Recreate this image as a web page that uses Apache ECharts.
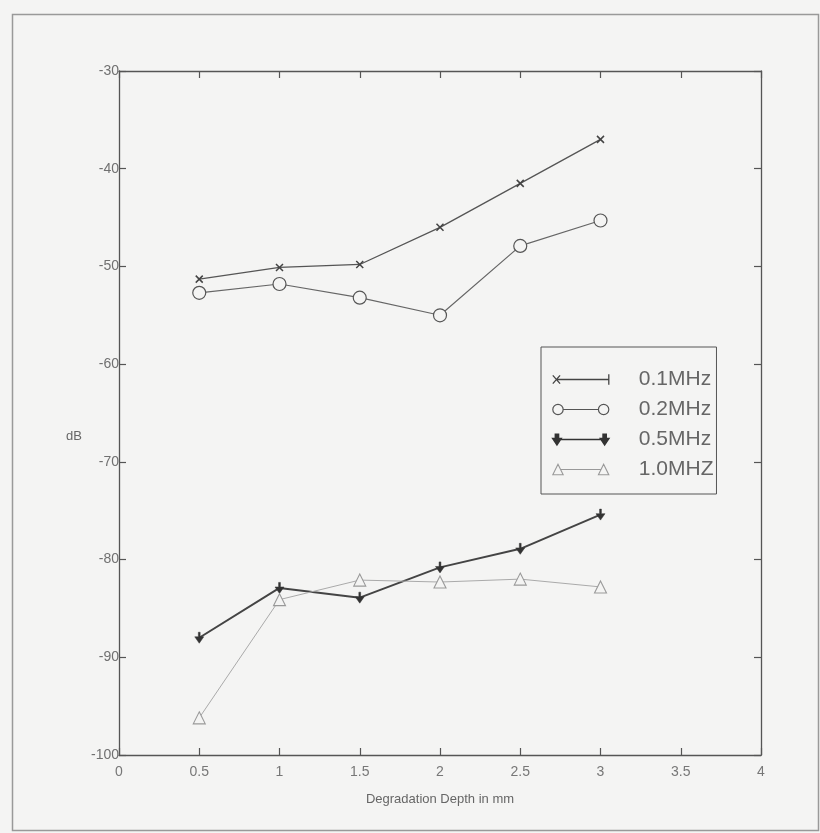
<!DOCTYPE html>
<html>
<head>
<meta charset="utf-8">
<script src="https://cdn.jsdelivr.net/npm/echarts@6/dist/echarts.min.js"></script>
<style>
html,body{margin:0;padding:0;background:#f4f4f3;}
#c{width:820px;height:833px;}
</style>
</head>
<body>
<div id="c"></div>
<script>
const xValues = [0.5, 1, 1.5, 2, 2.5, 3];
const s01 = [-51.3, -50.1, -49.8, -46.0, -41.5, -37.0];
const s02 = [-52.7, -51.8, -53.2, -55.0, -47.9, -45.3];
const s05 = [-88.0, -82.9, -83.9, -80.8, -78.9, -75.4];
const s10 = [-96.2, -84.1, -82.1, -82.3, -82.0, -82.8];
const seriesNames = ['0.1MHz', '0.2MHz', '0.5MHz', '1.0MHZ'];
const xAxisTitle = 'Degradation Depth in mm';
const yAxisTitle = 'dB';

const BG = '#f4f4f3';
const FONT = 'Liberation Sans, Arial, sans-serif';
const pairs = arr => xValues.map((x, i) => [x, arr[i]]);

const chart = echarts.init(document.getElementById('c'), null, {renderer: 'canvas'});

const axisCommon = {
  axisLine: {show: true, onZero: false, lineStyle: {color: '#555', width: 1.3}},
  axisTick: {show: true, inside: true, length: 7, lineStyle: {color: '#555', width: 1.2}},
  splitLine: {show: false}
};

const option = {
  backgroundColor: BG,
  animation: false,
  grid: {left: 119, right: 59, top: 71, bottom: 78, containLabel: false},
  xAxis: [
    Object.assign({}, axisCommon, {
      type: 'value', min: 0, max: 4, interval: 0.5, position: 'bottom',
      name: xAxisTitle, nameLocation: 'middle', nameGap: 38,
      nameTextStyle: {color: '#666', fontSize: 13, fontFamily: FONT},
      axisLabel: {color: '#777', fontSize: 14, fontFamily: FONT, margin: 10}
    }),
    Object.assign({}, axisCommon, {
      type: 'value', min: 0, max: 4, interval: 0.5, position: 'top',
      axisLabel: {show: false}
    })
  ],
  yAxis: [
    Object.assign({}, axisCommon, {
      type: 'value', min: -100, max: -30, interval: 10, position: 'left',
      axisLabel: {color: '#707070', fontSize: 14, fontFamily: FONT, margin: 0, padding: [0, 0, 6, 0]}
    }),
    Object.assign({}, axisCommon, {
      type: 'value', min: -100, max: -30, interval: 10, position: 'right',
      axisLabel: {show: false}
    })
  ],
  legend: {
    orient: 'vertical',
    left: 541, top: 347,
    padding: [22, 3, 14, 11],
    itemWidth: 56, itemHeight: 12, itemGap: 9,
    borderColor: '#555', borderWidth: 1,
    selectedMode: false,
    textStyle: {color: '#666', fontSize: 21, fontFamily: FONT, lineHeight: 21, padding: [0, 0, 0, 25]},
    data: [
      {name: seriesNames[0], icon: 'path://M0 2 L7 10 M7 2 L0 10 M3.5 6 L54 6 M54 1 L54 11',
       itemStyle: {color: BG, borderColor: '#444', borderWidth: 1.3}},
      {name: seriesNames[1], icon: 'path://M0 6 A5 5 0 1 1 10 6 A5 5 0 1 1 0 6 Z M10 6 L44 6 M44 6 A5 5 0 1 1 54 6 A5 5 0 1 1 44 6 Z',
       itemStyle: {color: BG, borderColor: '#555', borderWidth: 1.2}},
      {name: seriesNames[2], icon: 'path://M2.5 1 L5.5 1 L5.5 5 L8 5 L4 11 L0 5 L2.5 5 Z M4 6 L50 6 M48.5 1 L51.5 1 L51.5 5 L54 5 L50 11 L46 5 L48.5 5 Z',
       itemStyle: {color: '#333', borderColor: '#333', borderWidth: 1.6}},
      {name: seriesNames[3], icon: 'path://M0 11 L5 1 L10 11 Z M7.5 6 L46.5 6 M44 11 L49 1 L54 11 Z',
       itemStyle: {color: BG, borderColor: '#999', borderWidth: 1.1}}
    ]
  },
  graphic: [
    {type: 'rect', left: 10, top: 12, z: -1, silent: true,
     shape: {width: 806, height: 816},
     style: {fill: null, stroke: '#999', lineWidth: 1.5}},
    {type: 'text', left: 66, top: 430, silent: true,
     style: {text: yAxisTitle, fill: '#666', fontSize: 13, fontFamily: FONT}}
  ],
  series: [
    {name: seriesNames[0], type: 'line', data: pairs(s01),
     symbol: 'path://M0 0 L10 10 M10 0 L0 10', symbolSize: 7,
     itemStyle: {color: BG, borderColor: '#444', borderWidth: 1.5},
     lineStyle: {color: '#555', width: 1.3}},
    {name: seriesNames[1], type: 'line', data: pairs(s02),
     symbol: 'circle', symbolSize: 13,
     itemStyle: {color: BG, borderColor: '#555', borderWidth: 1.2},
     lineStyle: {color: '#666', width: 1.2}, z: 3},
    {name: seriesNames[2], type: 'line', data: pairs(s05),
     symbol: 'path://M4 0 L6 0 L6 5 L10 5 L5 12 L0 5 L4 5 Z', symbolSize: [9, 11],
     itemStyle: {color: '#333', borderColor: '#333', borderWidth: 0.5},
     lineStyle: {color: '#444', width: 2}},
    {name: seriesNames[3], type: 'line', data: pairs(s10),
     symbol: 'triangle', symbolSize: 12,
     itemStyle: {color: BG, borderColor: '#999', borderWidth: 1.1},
     lineStyle: {color: '#aaa', width: 1}}
  ]
};
chart.setOption(option);
</script>
</body>
</html>
